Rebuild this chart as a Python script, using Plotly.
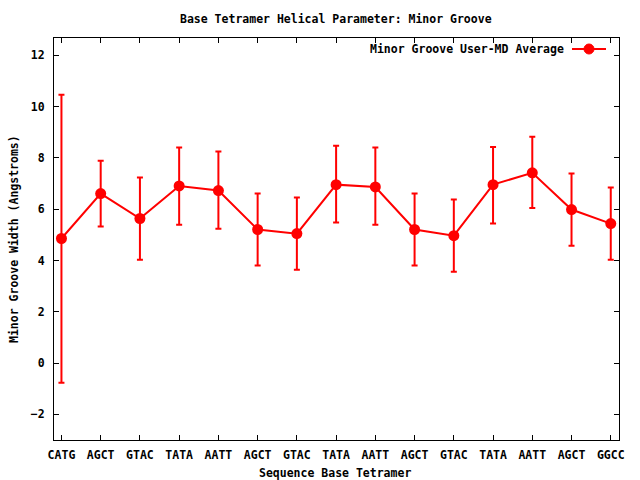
import plotly.graph_objects as go

# ---- data ----
tick_labels = ["CATG", "AGCT", "GTAC", "TATA", "AATT", "AGCT", "GTAC", "TATA",
               "AATT", "AGCT", "GTAC", "TATA", "AATT", "AGCT", "GGCC"]
mean_width = [4.86, 6.61, 5.64, 6.91, 6.73, 5.21, 5.05, 6.96,
              6.87, 5.21, 4.97, 6.96, 7.42, 5.99, 5.44]
upper_width = [10.47, 7.89, 7.24, 8.41, 8.25, 6.61, 6.46, 8.48,
               8.41, 6.61, 6.38, 8.43, 8.83, 7.39, 6.85]
lower_width = [-0.77, 5.33, 4.03, 5.40, 5.24, 3.81, 3.64, 5.48,
               5.40, 3.81, 3.56, 5.44, 6.05, 4.58, 4.03]
y_ticks = [-2, 0, 2, 4, 6, 8, 10, 12]

positions = list(range(len(tick_labels)))
err_plus = [u - m for u, m in zip(upper_width, mean_width)]
err_minus = [m - l for m, l in zip(mean_width, lower_width)]

W, H = 640, 480
L, R, T, B = 54, 619, 38, 440
def fx(p):
    return (p - L) / (R - L)
def fy(p):
    return (B - p) / (B - T)

RED = "#ff0000"
FONT = dict(family="DejaVu Sans Mono", size=11.5, color="black", weight="bold")

fig = go.Figure()
fig.add_trace(go.Scatter(
    x=positions, y=mean_width, mode="lines+markers",
    name="Minor Groove User-MD Average",
    line=dict(color=RED, width=2),
    marker=dict(color=RED, size=11, symbol="circle"),
    error_y=dict(type="data", array=err_plus, arrayminus=err_minus,
                 color=RED, thickness=2, width=3, visible=True),
    showlegend=False,
))

axis_common = dict(showline=True, linecolor="black", linewidth=1, mirror="ticks",
                   ticks="inside", ticklen=5, tickcolor="black", tickwidth=1,
                   showgrid=False, zeroline=False, tickfont=FONT, automargin=False)

fig.update_xaxes(range=[-0.19, 14.21], tickvals=positions, ticktext=tick_labels,
                 ticklabelstandoff=4, **axis_common)
fig.update_yaxes(range=[-3, 12.68], tickvals=y_ticks, ticklabelstandoff=6,
                 **axis_common)

annotations = [
    dict(text="Base Tetramer Helical Parameter: Minor Groove", x=fx(336), y=fy(19),
         xref="paper", yref="paper", showarrow=False, font=FONT,
         xanchor="center", yanchor="middle"),
    dict(text="Sequence Base Tetramer", x=fx(335), y=fy(473),
         xref="paper", yref="paper", showarrow=False, font=FONT,
         xanchor="center", yanchor="middle"),
    dict(text="Minor Groove Width (Angstroms)", x=fx(14), y=fy(239),
         xref="paper", yref="paper", showarrow=False, font=FONT, textangle=-90,
         xanchor="center", yanchor="middle"),
    dict(text="Minor Groove User-MD Average", x=fx(566), y=fy(49),
         xref="paper", yref="paper", showarrow=False, font=FONT,
         xanchor="right", yanchor="middle"),
]

shapes = [
    dict(type="line", xref="paper", yref="paper", x0=fx(572), x1=fx(606),
         y0=fy(49), y1=fy(49), line=dict(color=RED, width=2)),
    dict(type="circle", xref="paper", yref="paper", x0=fx(584), x1=fx(594),
         y0=fy(54), y1=fy(44), fillcolor=RED, line=dict(color=RED, width=1)),
]

fig.update_layout(
    width=W, height=H,
    margin=dict(l=L, r=W - R, t=T, b=H - B, pad=0),
    paper_bgcolor="white", plot_bgcolor="white",
    font=FONT,
    annotations=annotations, shapes=shapes,
    showlegend=False,
)

fig.write_html("out.html", config={"displayModeBar": False},
               post_script="document.body.style.margin='0px';document.body.style.overflow='hidden';")
